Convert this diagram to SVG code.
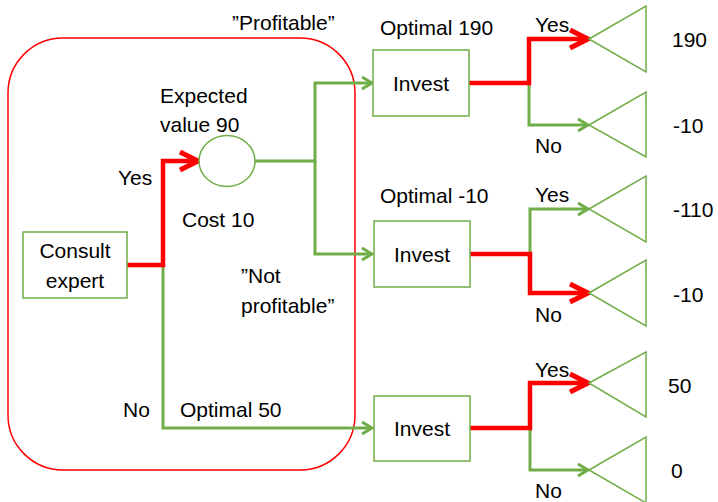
<svg xmlns="http://www.w3.org/2000/svg" width="718" height="502" viewBox="0 0 718 502">
<defs>
<style>
text{font-family:"Liberation Sans",Arial,sans-serif;font-size:21px;fill:#000}
.box{fill:#fff;stroke:#70ad47;stroke-width:1.5}
.tri{fill:#fff;stroke:#70ad47;stroke-width:1.5}
.g{fill:none;stroke:#70ad47;stroke-width:3}
.r{fill:none;stroke:#ff0000;stroke-width:4.5}
.mid{text-anchor:middle}
</style>
<marker id="ag" markerUnits="userSpaceOnUse" viewBox="-12 -8 14 16" markerWidth="14" markerHeight="16" refX="0" refY="0" orient="auto" overflow="visible">
<path d="M-10,-6 L0,0 L-10,6" fill="none" stroke="#70ad47" stroke-width="3"/>
</marker>
<marker id="ar" markerUnits="userSpaceOnUse" viewBox="-22 -12 24 24" markerWidth="24" markerHeight="24" refX="0" refY="0" orient="auto" overflow="visible">
<path d="M-18,-9 L0,0 L-18,9" fill="none" stroke="#ff0000" stroke-width="5"/>
</marker>
</defs>
<rect x="8" y="38" width="347" height="432" rx="55" ry="55" fill="none" stroke="#ff0000" stroke-width="1.5"/>
<g id="connectors">
<path class="g" d="M163,265 V428 H372" marker-end="url(#ag)"/>
<path class="g" d="M255,161 H315 V83 H372" marker-end="url(#ag)"/>
<path class="g" d="M315,161 V254 H372" marker-end="url(#ag)"/>
<path class="g" d="M529,83 V125 H588" marker-end="url(#ag)"/>
<path class="g" d="M530,254 V209 H588" marker-end="url(#ag)"/>
<path class="g" d="M530,428 V470 H588" marker-end="url(#ag)"/>
<path class="r" d="M127,265 H163 V161 H198" marker-end="url(#ar)"/>
<path class="r" d="M469,83 H529 V39 H588" marker-end="url(#ar)"/>
<path class="r" d="M470,254 H530 V293 H588" marker-end="url(#ar)"/>
<path class="r" d="M470,428 H530 V383 H588" marker-end="url(#ar)"/>
</g>
<g id="consult">
<rect class="box" x="23" y="232" width="104" height="66"/>
<text class="mid" x="75" y="258">Consult</text>
<text class="mid" x="75" y="288">expert</text>
</g>
<g id="chance">
<ellipse cx="227" cy="161" rx="28" ry="25.5" fill="#fff" stroke="#70ad47" stroke-width="1.5"/>
</g>
<g id="invest1">
<rect class="box" x="373" y="50" width="96" height="66"/>
<text class="mid" x="421" y="91">Invest</text>
</g>
<g id="invest2">
<rect class="box" x="374" y="221" width="96" height="66"/>
<text class="mid" x="422" y="262">Invest</text>
</g>
<g id="invest3">
<rect class="box" x="374" y="396" width="96" height="65"/>
<text class="mid" x="422" y="436">Invest</text>
</g>
<g id="t1"><polygon class="tri" points="589,39 646,6 646,72"/></g>
<g id="t2"><polygon class="tri" points="589,125 646,92 646,157"/></g>
<g id="t3"><polygon class="tri" points="589,209 646,176 646,242"/></g>
<g id="t4"><polygon class="tri" points="589,293 646,260 646,326"/></g>
<g id="t5"><polygon class="tri" points="589,383 646,352 646,417"/></g>
<g id="t6"><polygon class="tri" points="589,470 646,437 646,503"/></g>
<g id="labels">
<text x="232" y="30">”Profitable”</text>
<text x="160" y="103">Expected</text>
<text x="160" y="132">value 90</text>
<text x="118" y="185">Yes</text>
<text x="182" y="227">Cost 10</text>
<text x="241" y="283">”Not</text>
<text x="241" y="313">profitable”</text>
<text x="123" y="417">No</text>
<text x="180" y="417">Optimal 50</text>
<text x="380" y="35">Optimal 190</text>
<text x="380" y="203">Optimal -10</text>
<text x="535" y="32">Yes</text>
<text x="535" y="153">No</text>
<text x="535" y="202">Yes</text>
<text x="535" y="322">No</text>
<text x="535" y="377">Yes</text>
<text x="535" y="498">No</text>
<text x="672" y="47">190</text>
<text x="673" y="133">-10</text>
<text x="673" y="217">-110</text>
<text x="673" y="302">-10</text>
<text x="668" y="393">50</text>
<text x="671" y="478">0</text>
</g>
</svg>
